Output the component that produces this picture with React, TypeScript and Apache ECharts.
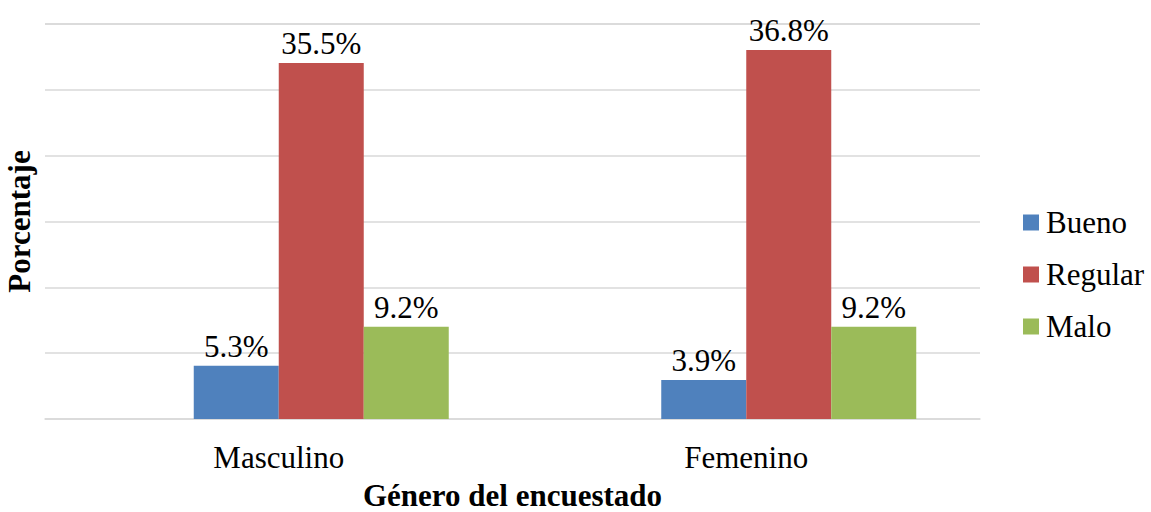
import React, { useEffect, useRef } from "react";
import * as echarts from "echarts";

const categories = ["Masculino", "Femenino"];
const seriesNames = ["Bueno", "Regular", "Malo"];
const bueno = [5.3, 3.9];
const regular = [35.5, 36.8];
const malo = [9.2, 9.2];
// empty slot series present in the original chart (takes the first bar position)
const blank = [null, null];
const colors = ["#4f81bd", "#c0504d", "#9bbb59"];
const axisMax = 39.4;
const gridCount = 6;

const FONT = "Liberation Serif";

export default function App() {
  const ref = useRef<HTMLDivElement>(null);
  useEffect(() => {
    if (!ref.current) return;
    const chart = echarts.init(ref.current, null, { renderer: "svg" });
    const values = [bueno, regular, malo];
    const realSeries = seriesNames.map((n, i) => ({
      name: n,
      type: "bar",
      data: values[i],
      barWidth: 85,
      barGap: "0%",
      itemStyle: { color: colors[i] },
      label: {
        show: true,
        position: "top",
        distance: 4,
        fontFamily: FONT,
        fontSize: 31,
        fontWeight: "normal",
        color: "#000",
        formatter: (p: any) => p.value.toFixed(1) + "%",
      },
    }));
    chart.setOption({
      animation: false,
      textStyle: { fontFamily: FONT },
      grid: { left: 45, right: 171, top: 24, bottom: 93, outerBoundsMode: "none", containLabel: false },
      legend: {
        orient: "vertical",
        left: 1023,
        top: 207,
        padding: 0,
        itemWidth: 16,
        itemHeight: 16,
        itemGap: 21,
        icon: "rect",
        textStyle: { fontFamily: FONT, fontSize: 31, fontWeight: "normal", color: "#000", padding: [0, 0, 0, 2] },
        data: seriesNames,
      },
      xAxis: {
        type: "category",
        data: categories,
        axisLine: { lineStyle: { color: "#d9d9d9", width: 1.5 } },
        axisTick: { show: false },
        axisLabel: { fontFamily: FONT, fontSize: 31, fontWeight: "normal", color: "#000", margin: 23 },
        name: "Género del encuestado",
        nameLocation: "middle",
        nameGap: 66,
        nameTextStyle: { fontFamily: FONT, fontSize: 31, fontWeight: "bold", color: "#000", lineHeight: 20 },
      },
      yAxis: {
        type: "value",
        min: 0,
        max: axisMax,
        interval: axisMax / gridCount,
        axisLine: { show: false },
        axisTick: { show: false },
        axisLabel: { show: false },
        splitLine: { lineStyle: { color: "#d9d9d9", width: 1.5 } },
        name: "Porcentaje",
        nameLocation: "middle",
        nameGap: 10,
        nameRotate: 90,
        nameTextStyle: { fontFamily: FONT, fontSize: 31, fontWeight: "bold", color: "#000" },
      },
      series: [
        {
          name: "_blank",
          type: "bar",
          data: blank,
          barWidth: 85,
          barGap: "0%",
          silent: true,
          label: { show: false },
        },
        ...realSeries,
      ],
    });
    return () => chart.dispose();
  }, []);
  return (
    <div
      ref={ref}
      style={{ position: "absolute", left: 0, top: 0, width: 1151, height: 512 }}
    />
  );
}
